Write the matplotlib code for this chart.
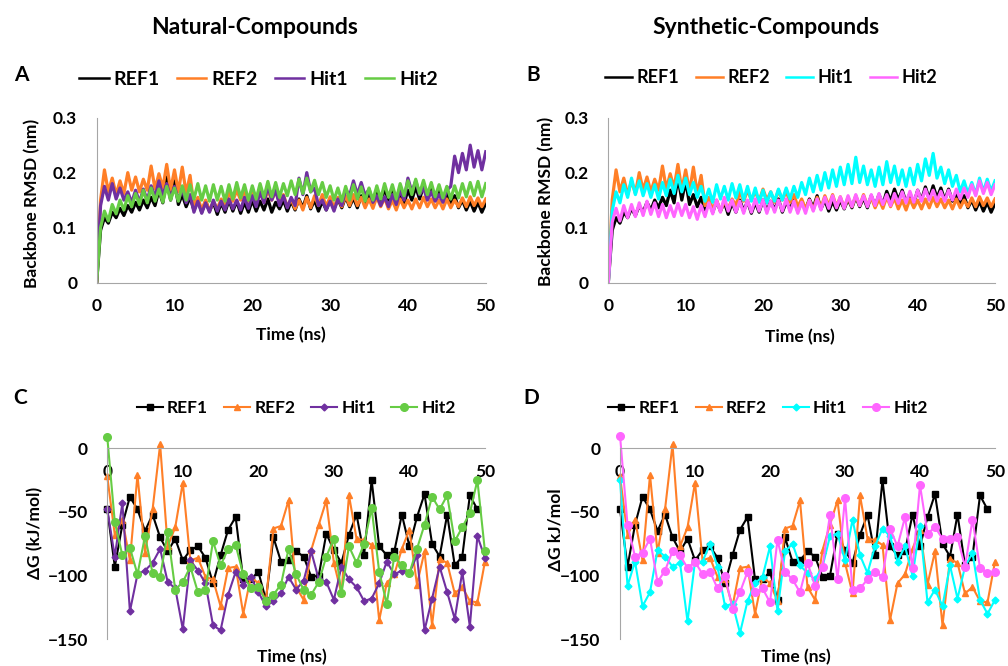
import numpy as np
import matplotlib
matplotlib.use("Agg")
import matplotlib.pyplot as plt

plt.rcParams['font.family'] = ['Lato', 'DejaVu Sans']
plt.rcParams['font.weight'] = 'bold'

names = ["REF1", "REF2", "Hit1", "Hit2"]

# backbone RMSD, nm x 1000, one reading every 0.5 ns (0..50 ns)
ref1_rmsd = [0, 95, 118, 108, 128, 118, 135, 122, 140, 128,
             146, 132, 150, 136, 155, 140, 168, 145, 192, 150,
             185, 142, 160, 138, 155, 132, 150, 128, 148, 130,
             146, 124, 145, 128, 150, 130, 148, 126, 146, 128,
             150, 130, 148, 132, 152, 128, 146, 134, 150, 130,
             148, 132, 152, 136, 158, 134, 150, 130, 148, 132,
             150, 134, 152, 136, 156, 138, 154, 136, 158, 140,
             160, 142, 166, 148, 170, 150, 168, 146, 162, 144,
             168, 150, 174, 152, 176, 154, 172, 150, 170, 148,
             162, 140, 158, 136, 150, 132, 148, 130, 146, 128, 144]
ref2_rmsd = [0, 150, 205, 165, 190, 160, 185, 162, 200, 168,
             192, 165, 188, 168, 212, 170, 198, 172, 215, 168,
             205, 165, 210, 162, 195, 140, 155, 132, 150, 130,
             148, 134, 152, 140, 165, 148, 168, 150, 166, 148,
             170, 150, 165, 146, 168, 150, 166, 146, 160, 138,
             152, 134, 150, 132, 155, 136, 158, 140, 160, 138,
             156, 136, 155, 138, 158, 140, 160, 140, 155, 136,
             152, 135, 156, 138, 154, 134, 150, 132, 152, 136,
             150, 134, 152, 136, 155, 138, 152, 136, 150, 134,
             152, 136, 150, 138, 154, 138, 156, 140, 154, 138, 152]
hit1_nat_rmsd = [0, 140, 175, 150, 180, 152, 172, 150, 165, 145,
                 168, 146, 170, 150, 176, 155, 185, 158, 180, 154,
                 175, 150, 170, 145, 160, 128, 148, 126, 145, 128,
                 150, 130, 148, 132, 152, 134, 150, 132, 155, 135,
                 158, 138, 165, 145, 175, 150, 168, 140, 158, 136,
                 155, 140, 190, 160, 200, 165, 172, 140, 150, 132,
                 148, 130, 152, 140, 170, 158, 185, 160, 182, 158,
                 170, 146, 158, 140, 156, 138, 160, 142, 168, 150,
                 190, 165, 185, 160, 172, 150, 165, 148, 160, 146,
                 168, 175, 230, 200, 235, 205, 250, 210, 240, 205, 238]
hit2_nat_rmsd = [0, 100, 130, 112, 142, 125, 150, 132, 158, 138,
                 162, 142, 168, 145, 172, 148, 170, 146, 175, 150,
                 172, 148, 176, 150, 178, 152, 180, 150, 176, 148,
                 178, 150, 175, 148, 178, 152, 182, 154, 178, 150,
                 176, 152, 180, 155, 184, 156, 182, 155, 180, 158,
                 185, 160, 188, 162, 190, 165, 186, 160, 182, 155,
                 176, 150, 172, 148, 175, 150, 178, 152, 174, 148,
                 172, 150, 176, 152, 180, 155, 178, 152, 180, 158,
                 185, 160, 188, 162, 186, 160, 182, 156, 178, 154,
                 175, 152, 176, 154, 180, 156, 182, 158, 184, 156, 180]
hit1_syn_rmsd = [0, 130, 165, 145, 178, 155, 190, 160, 185, 158,
                 180, 155, 178, 152, 182, 158, 188, 162, 195, 165,
                 190, 160, 182, 155, 175, 148, 170, 146, 178, 152,
                 175, 150, 180, 154, 178, 150, 175, 148, 172, 146,
                 168, 145, 165, 148, 170, 150, 172, 152, 175, 155,
                 182, 160, 190, 165, 195, 168, 200, 172, 205, 175,
                 210, 178, 215, 180, 228, 182, 212, 178, 205, 175,
                 210, 178, 220, 182, 212, 178, 205, 175, 208, 178,
                 215, 185, 225, 195, 235, 190, 210, 180, 205, 175,
                 195, 165, 185, 162, 182, 160, 190, 165, 188, 166, 185]
hit2_syn_rmsd = [0, 110, 135, 112, 140, 118, 142, 120, 145, 122,
                 148, 124, 145, 120, 142, 118, 140, 120, 144, 122,
                 142, 118, 138, 115, 140, 120, 145, 125, 150, 128,
                 155, 130, 150, 128, 148, 126, 150, 128, 152, 130,
                 150, 126, 148, 128, 150, 130, 152, 128, 148, 126,
                 146, 126, 150, 130, 152, 132, 155, 135, 158, 136,
                 156, 135, 158, 138, 160, 140, 158, 138, 160, 140,
                 162, 142, 160, 140, 162, 144, 165, 145, 166, 146,
                 168, 148, 170, 150, 168, 148, 166, 148, 168, 150,
                 170, 152, 172, 155, 178, 158, 185, 162, 182, 160, 178]

# binding free energy, kJ/mol, one value per ns
ref1_dg = [-48, -93, -60, -38, -48, -65, -52, -70, -81, -71,
           -88, -80, -77, -86, -106, -84, -64, -54, -103, -103,
           -97, -119, -70, -89, -88, -81, -85, -101, -100, -67,
           -80, -90, -68, -52, -84, -25, -77, -84, -81, -52,
           -77, -54, -36, -75, -85, -52, -92, -85, -37, -48]
ref2_dg = [-22, -68, -56, -88, -21, -82, -48, 3, -77, -62,
           -27, -88, -86, -101, -103, -124, -94, -93, -130, -101,
           -106, -120, -63, -61, -41, -109, -119, -80, -60, -41,
           -90, -114, -37, -71, -72, -76, -135, -106, -99, -79,
           -64, -107, -81, -139, -87, -90, -114, -109, -120, -121, -89]
hit1_nat_dg = [-48, -85, -43, -128, -99, -96, -90, -79, -105, -110,
               -142, -88, -96, -106, -139, -143, -115, -97, -107, -101,
               -113, -124, -120, -114, -101, -111, -104, -81, -103, -105,
               -119, -93, -103, -109, -120, -118, -106, -89, -99, -96,
               -98, -84, -143, -118, -93, -113, -134, -97, -140, -69, -86]
hit2_nat_dg = [9, -58, -84, -78, -99, -69, -98, -101, -66, -111,
               -105, -93, -113, -111, -73, -92, -79, -76, -99, -110,
               -109, -120, -115, -107, -79, -99, -111, -115, -105, -85,
               -71, -114, -77, -90, -75, -47, -97, -122, -85, -92,
               -98, -79, -60, -38, -48, -37, -73, -62, -51, -25, -81]
hit1_syn_dg = [-25, -108, -89, -124, -113, -80, -85, -93, -90, -136,
               -89, -89, -75, -93, -124, -122, -145, -120, -106, -101,
               -77, -128, -81, -75, -92, -98, -103, -93, -69, -67,
               -88, -56, -84, -98, -77, -63, -69, -89, -77, -100,
               -61, -121, -111, -124, -92, -118, -93, -82, -119, -130, -119]
hit2_syn_dg = [10, -60, -85, -82, -71, -105, -96, -81, -84, -94,
               -89, -99, -97, -110, -100, -126, -113, -97, -113, -110,
               -121, -72, -97, -103, -113, -90, -108, -93, -52, -103,
               -39, -111, -110, -103, -97, -101, -63, -77, -54, -94,
               -29, -67, -62, -71, -71, -70, -93, -56, -94, -98, -97]

black = 'black'
orange = '#FF7F27'
purple = '#7030A0'
green = '#66CC44'
cyan = '#00FFFF'
magenta = '#FF66FF'
axis_gray = '#A6A6A6'

fig = plt.figure(figsize=(10.08, 6.66), dpi=100)
axA = fig.add_axes([0.0959, 0.5758, 0.386, 0.2475])
axB = fig.add_axes([0.6035, 0.5758, 0.3836, 0.2475])
axC = fig.add_axes([0.1064, 0.0401, 0.3747, 0.2868])
axD = fig.add_axes([0.6151, 0.0401, 0.372, 0.2868])


def rmsd_panel(ax, series, colors):
    for vals, c, n in zip(series, colors, names):
        t = np.linspace(0, 50, len(vals))
        ax.plot(t, np.array(vals) / 1000.0, color=c, lw=2.3, label=n)
    ax.set_xlim(0, 50)
    ax.set_ylim(0, 0.3)
    ax.set_xticks(range(0, 51, 10))
    ax.set_yticks([0, 0.1, 0.2, 0.3])
    ax.set_yticklabels(["0", "0.1", "0.2", "0.3"])
    for s in ['top', 'right']:
        ax.spines[s].set_visible(False)
    for s in ['left', 'bottom']:
        ax.spines[s].set_color(axis_gray)
    ax.tick_params(length=0, labelsize=12.5)
    ax.tick_params(axis='x', pad=11)
    ax.tick_params(axis='y', pad=14)


def dg_panel(ax, series, colors):
    markers = ['s', '^', 'D', 'o']
    msizes = [4.5, 5, 3.5, 5.5]
    for vals, c, m, ms, n in zip(series, colors, markers, msizes, names):
        ns = np.arange(len(vals))
        ax.plot(ns, vals, color=c, lw=1.5, marker=m, ms=ms, label=n, clip_on=False)
    ax.set_xlim(0, 50)
    ax.set_ylim(-150, 0)
    ax.set_xticks(range(0, 51, 10))
    ax.set_yticks([0, -50, -100, -150])
    for s in ['top', 'right']:
        ax.spines[s].set_visible(False)
    ax.spines['bottom'].set_position(('data', 0))
    for s in ['left', 'bottom']:
        ax.spines[s].set_color(axis_gray)
    ax.tick_params(length=0, labelsize=12.5)
    ax.tick_params(axis='x', pad=11)
    ax.tick_params(axis='y', pad=14)


rmsd_panel(axA, [ref1_rmsd, ref2_rmsd, hit1_nat_rmsd, hit2_nat_rmsd], [black, orange, purple, green])
rmsd_panel(axB, [ref1_rmsd, ref2_rmsd, hit1_syn_rmsd, hit2_syn_rmsd], [black, orange, cyan, magenta])
dg_panel(axC, [ref1_dg, ref2_dg, hit1_nat_dg, hit2_nat_dg], [black, orange, purple, green])
dg_panel(axD, [ref1_dg, ref2_dg, hit1_syn_dg, hit2_syn_dg], [black, orange, cyan, magenta])

# legends above each panel
leg_spots = [(axA, 0.2565, 0.881, 14), (axB, 0.765, 0.883, 13),
             (axC, 0.294, 0.388, 12.5), (axD, 0.762, 0.388, 12.5)]
for ax, lx, ly, fs in leg_spots:
    h, l = ax.get_legend_handles_labels()
    leg = fig.legend(h, l, loc='center', bbox_to_anchor=(lx, ly), ncol=4, frameon=False,
                     fontsize=fs, handlelength=1.5, handletextpad=0.25, columnspacing=0.9,
                     borderaxespad=0, borderpad=0)
    if ax in (axA, axB):
        for ln in leg.get_lines():
            ln.set_linewidth(1.8)

# titles and panel letters
fig.text(0.253, 0.959, "Natural-Compounds", ha='center', va='center', fontsize=16.5)
fig.text(0.760, 0.959, "Synthetic-Compounds", ha='center', va='center', fontsize=16.5)
for lab, x, y in [("A", 0.021, 0.887), ("B", 0.529, 0.887), ("C", 0.020, 0.402), ("D", 0.527, 0.402)]:
    fig.text(x, y, lab, ha='center', va='center', fontsize=15)

# axis labels
fig.text(0.032, 0.694, "Backbone RMSD (nm)", rotation=90, ha='center', va='center', fontsize=12.5)
fig.text(0.542, 0.697, "Backbone RMSD (nm)", rotation=90, ha='center', va='center', fontsize=12.5)
fig.text(0.035, 0.200, "ΔG (kJ/mol)", rotation=90, ha='center', va='center', fontsize=12.5)
fig.text(0.551, 0.204, "ΔG kJ/mol", rotation=90, ha='center', va='center', fontsize=12.5)
fig.text(0.289, 0.497, "Time (ns)", ha='center', va='center', fontsize=12.5)
fig.text(0.794, 0.494, "Time (ns)", ha='center', va='center', fontsize=12.5)
fig.text(0.290, 0.014, "Time (ns)", ha='center', va='center', fontsize=12.5)
fig.text(0.790, 0.014, "Time (ns)", ha='center', va='center', fontsize=12.5)

fig.savefig("out.png", dpi=100)
